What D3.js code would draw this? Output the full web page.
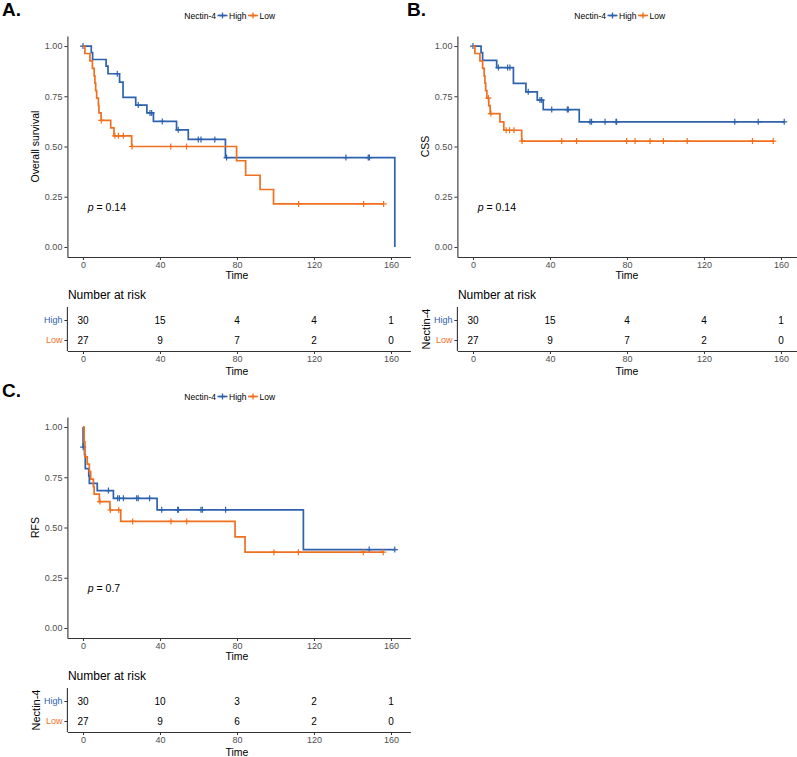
<!DOCTYPE html>
<html>
<head>
<meta charset="utf-8">
<script src="https://cdn.jsdelivr.net/npm/d3@7"></script>
<style>
  body { margin: 0; background: #fff; }
  svg { display: block; font-family: "Liberation Sans", Arial, Helvetica, sans-serif; }
</style>
</head>
<body>
<svg id="chart" width="797" height="757"></svg>
<script>
// ---------- DATA ----------
const timeTicks = [0, 40, 80, 120, 160];
const survTicks = [0, 0.25, 0.5, 0.75, 1];
const groups = ["High", "Low"];
const legendTitle = "Nectin-4";

// Overall survival (A)
const osHighSteps = [[0,1],[4.3,0.967],[5,0.933],[12,0.9],[13,0.862],[19,0.82],[20.8,0.745],[27.4,0.706],[33.2,0.667],[36.6,0.625],[48.6,0.583],[54.7,0.535],[74,0.445],[162,0]];
const osHighEnd = 162;
const osHighCensor = [0,17.8,28.7,34.8,35.7,41.2,49.5,59.9,61.3,68.5,74.6,136.6,148.2,148.8];
const osLowSteps = [[0,1],[1,0.963],[3.6,0.926],[4.9,0.889],[5.8,0.852],[6.2,0.815],[6.6,0.778],[7.1,0.741],[8,0.704],[8.3,0.667],[9.4,0.63],[14.4,0.593],[16.1,0.553],[25.3,0.5],[79.8,0.429],[84.5,0.357],[92,0.286],[99,0.214]];
const osLowEnd = 156.2;
const osLowCensor = [9.5,16.6,18.4,21,25.5,45.6,53.8,112,145.8,156.2];
const osRiskHigh = [30,15,4,4,1];
const osRiskLow = [27,9,7,2,0];
const osPValue = "0.14";

// Cancer-specific survival (B)
const cssHighSteps = [[0,1],[4.2,0.967],[5,0.929],[12.3,0.893],[21,0.814],[27.5,0.772],[33.4,0.731],[36.5,0.684],[55.2,0.623]];
const cssHighEnd = 161.7;
const cssHighCensor = [0,13.2,18,19.2,28.7,34.8,35.7,40.9,49,49.5,60.8,61.6,68.6,74.3,74.6,136,148.2,161.7];
const cssLowSteps = [[0,1],[1,0.963],[3.6,0.926],[5,0.889],[5.8,0.852],[6.2,0.815],[6.6,0.778],[7.2,0.741],[8.2,0.703],[8.9,0.664],[14,0.623],[16,0.581],[25.3,0.527]];
const cssLowEnd = 156;
const cssLowCensor = [8,9.3,17.2,19,21.3,25.5,46.1,53.8,79.8,84.2,92,98.9,111.3,145.2,156];
const cssRiskHigh = [30,15,4,4,1];
const cssRiskLow = [27,9,7,2,0];
const cssPValue = "0.14";

// Relapse-free survival (C)
const rfsHighSteps = [[0,1],[0.05,0.9],[0.8,0.862],[1.2,0.793],[3,0.757],[3.3,0.72],[7.4,0.684],[15.8,0.645],[38.5,0.588],[114.5,0.39]];
const rfsHighEnd = 162;
const rfsHighCensor = [0.1,13.2,18,18.9,21,27.9,28.7,34.6,40.9,49.2,49.6,61.3,62,74.1,148.7,162];
const rfsLowSteps = [[0,1],[0.6,0.926],[1,0.852],[2.2,0.815],[3.3,0.778],[4,0.741],[5.4,0.703],[5.8,0.666],[8.5,0.629],[14,0.587],[19.6,0.53],[79,0.453],[84.2,0.377]];
const rfsLowEnd = 156;
const rfsLowCensor = [8.8,14.2,18.6,25.8,45.7,53.9,99.2,111.9,145.6,156];
const rfsRiskHigh = [30,10,3,2,1];
const rfsRiskLow = [27,9,6,2,0];
const rfsPValue = "0.7";

// ---------- STYLE ----------
const colors = { High: "#2E62AE", Low: "#F0701F" };
const axisColor = "#333333";
const tickTextColor = "#4D4D4D";
const FONT = "'Liberation Sans', Arial, Helvetica, sans-serif";

const svg = d3.select("#chart");

function stepValueAt(steps, t) {
  let v = steps[0][1];
  for (const s of steps) { if (s[0] <= t) v = s[1]; }
  return v;
}

function crossPath(x, y, r) {
  return `M${x - r},${y}H${x + r}M${x},${y - r}V${y + r}`;
}

function styleAxis(a) {
  a.attr("font-family", FONT).attr("font-size", 9);
  a.select(".domain").attr("stroke", axisColor).attr("stroke-width", 1.1);
  a.selectAll(".tick line").attr("stroke", axisColor).attr("stroke-width", 1);
  a.selectAll(".tick text").attr("fill", tickTextColor);
}

function drawPanel(cfg) {
  const left = cfg.left, top = cfg.top;
  const g = svg.append("g");
  const x = d3.scaleLinear().domain([-8.1, 170.1]).range([left, left + 343]);
  const y = d3.scaleLinear().domain([-0.05, 1.05]).range([top + 221, top]);

  // panel letter
  g.append("text").attr("x", cfg.letterX).attr("y", top - 20)
    .attr("font-size", 19).attr("font-weight", "bold").attr("fill", "#000")
    .text(cfg.letter);

  // legend
  const lg = g.append("g").attr("transform", `translate(${x(0)},${top - 20.5})`);
  lg.append("text").attr("x", 133).attr("y", 3).attr("text-anchor", "end")
    .attr("font-size", 8.5).attr("fill", "#000").text(legendTitle);
  const keyCenters = { High: 139.5, Low: 170 };
  groups.forEach((grp) => {
    const kc = keyCenters[grp];
    lg.append("line").attr("x1", kc - 5).attr("x2", kc + 5).attr("y1", 0).attr("y2", 0)
      .attr("stroke", colors[grp]).attr("stroke-width", 1.6);
    lg.append("path").attr("d", crossPath(kc, 0, 3)).attr("stroke", colors[grp]).attr("stroke-width", 1.3);
    lg.append("text").attr("x", kc + 6.5).attr("y", 3).attr("font-size", 8.5).attr("fill", "#000").text(grp);
  });

  // axes
  const yAxis = d3.axisLeft(y).tickValues(survTicks).tickFormat(d3.format(".2f")).tickSize(3).tickSizeOuter(0).tickPadding(2);
  const xAxis = d3.axisBottom(x).tickValues(timeTicks).tickFormat(d3.format("d")).tickSize(3).tickSizeOuter(0).tickPadding(1.5);
  const ya = g.append("g").attr("transform", `translate(${left},0)`).call(yAxis);
  const xa = g.append("g").attr("transform", `translate(0,${top + 221})`).call(xAxis);
  styleAxis(ya); styleAxis(xa);

  g.append("text").attr("x", x(80)).attr("y", top + 243).attr("text-anchor", "middle")
    .attr("font-size", 10.5).attr("fill", "#000").text("Time");
  g.append("text").attr("transform", `translate(${left - 28},${(top + top + 221) / 2}) rotate(-90)`)
    .attr("text-anchor", "middle").attr("font-size", 10.5).attr("fill", "#000").text(cfg.yTitle);

  // curves
  const line = d3.line().x(d => x(d[0])).y(d => y(d[1])).curve(d3.curveStepAfter);
  cfg.series.forEach(s => {
    const pts = s.steps.slice();
    const last = pts[pts.length - 1];
    if (last[0] < s.end) pts.push([s.end, last[1]]);
    g.append("path").attr("d", line(pts)).attr("fill", "none")
      .attr("stroke", colors[s.group]).attr("stroke-width", 1.7);
    g.append("g").selectAll("path").data(s.censor).join("path")
      .attr("d", t => crossPath(x(t), y(stepValueAt(s.steps, t)), 3))
      .attr("stroke", colors[s.group]).attr("stroke-width", 1.2).attr("fill", "none");
  });

  // p-value
  const pt = g.append("text").attr("x", x(2.5)).attr("y", y(0.2) + 4).attr("font-size", 10.5).attr("fill", "#000");
  pt.append("tspan").attr("font-style", "italic").text("p");
  pt.append("tspan").text(" = " + cfg.p);

  // risk table
  const tTop = top + 263;
  g.append("text").attr("x", left + 0.5).attr("y", tTop).attr("font-size", 12).attr("fill", "#000").text("Number at risk");
  const ry = d3.scalePoint().domain(groups).range([top + 284, top + 304]);
  const tx = d3.axisBottom(x).tickValues(timeTicks).tickFormat(d3.format("d")).tickSize(3).tickSizeOuter(0).tickPadding(1.5);
  const tya = d3.axisLeft(ry).tickSize(3).tickSizeOuter(0).tickPadding(2);
  const txa = g.append("g").attr("transform", `translate(0,${top + 315})`).call(tx);
  const tyg = g.append("g").attr("transform", `translate(${left},0)`).call(tya);
  tyg.select(".domain").attr("d", `M-0,${top + 271}V${top + 315}`);
  styleAxis(txa); styleAxis(tyg);
  tyg.selectAll(".tick text").attr("fill", d => colors[d]);
  g.append("text").attr("x", x(80)).attr("y", top + 339).attr("text-anchor", "middle")
    .attr("font-size", 10.5).attr("fill", "#000").text("Time");
  const riskRows = { High: cfg.riskHigh, Low: cfg.riskLow };
  groups.forEach(grp => {
    g.append("g").selectAll("text").data(riskRows[grp]).join("text")
      .attr("x", (d, i) => x(timeTicks[i])).attr("y", ry(grp) + 3.5)
      .attr("text-anchor", "middle").attr("font-size", 10).attr("fill", "#000")
      .text(d => d);
  });
  if (cfg.tableTitle) {
    g.append("text").attr("transform", `translate(${left - 27},${top + 293}) rotate(-90)`)
      .attr("text-anchor", "middle").attr("font-size", 11).attr("fill", "#000").text(legendTitle);
  }
}

drawPanel({ left: 67.4, top: 36, letter: "A.", letterX: 2, yTitle: "Overall survival", p: osPValue,
  series: [
    { group: "High", steps: osHighSteps, end: osHighEnd, censor: osHighCensor },
    { group: "Low", steps: osLowSteps, end: osLowEnd, censor: osLowCensor }
  ], riskHigh: osRiskHigh, riskLow: osRiskLow, tableTitle: false });

drawPanel({ left: 457.4, top: 36, letter: "B.", letterX: 407, yTitle: "CSS", p: cssPValue,
  series: [
    { group: "High", steps: cssHighSteps, end: cssHighEnd, censor: cssHighCensor },
    { group: "Low", steps: cssLowSteps, end: cssLowEnd, censor: cssLowCensor }
  ], riskHigh: cssRiskHigh, riskLow: cssRiskLow, tableTitle: true });

drawPanel({ left: 67.4, top: 417, letter: "C.", letterX: 2, yTitle: "RFS", p: rfsPValue,
  series: [
    { group: "High", steps: rfsHighSteps, end: rfsHighEnd, censor: rfsHighCensor },
    { group: "Low", steps: rfsLowSteps, end: rfsLowEnd, censor: rfsLowCensor }
  ], riskHigh: rfsRiskHigh, riskLow: rfsRiskLow, tableTitle: true });
</script>
</body>
</html>
